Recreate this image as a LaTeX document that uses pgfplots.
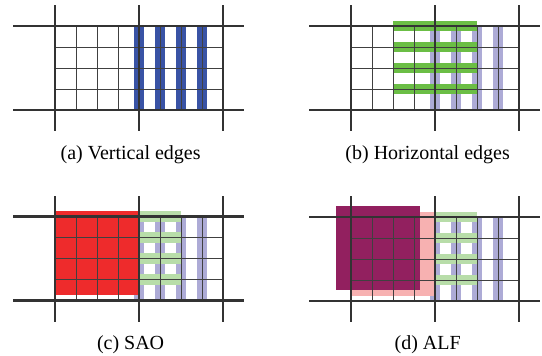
\documentclass[border=0pt]{standalone}
\usepackage{pgfplots}
\pgfplotsset{compat=1.18}
\usepackage{fontspec}
\setmainfont{Liberation Serif}
\definecolor{vblue}{RGB}{57,83,165}
\definecolor{lpurple}{RGB}{173,171,214}
\definecolor{hgreen}{RGB}{107,190,69}
\definecolor{lgreen}{RGB}{184,221,169}
\definecolor{sred}{RGB}{238,43,44}
\definecolor{lpink}{RGB}{247,177,177}
\definecolor{dmag}{RGB}{146,32,95}
\definecolor{thingray}{RGB}{64,64,64}
\definecolor{thickgray}{RGB}{51,51,51}
\pgfplotsset{panel/.style={x=21pt,y=21pt,xmin=-2,xmax=9,ymin=-1,ymax=5,
  hide axis,clip=false,anchor=south west,enlargelimits=false}}
\newcommand{\gridlines}{%
\addplot[draw=thingray, line width=0.9pt, unbounded coords=jump] coordinates {(1,0)(1,4) (nan,nan) (2,0)(2,4) (nan,nan) (3,0)(3,4) (nan,nan) (5,0)(5,4) (nan,nan) (6,0)(6,4) (nan,nan) (7,0)(7,4) (nan,nan) (0,1)(8,1) (nan,nan) (0,2)(8,2) (nan,nan) (0,3)(8,3)};
\addplot[draw=thickgray, line width=2.4pt, unbounded coords=jump] coordinates {(-2,0)(9,0) (nan,nan) (-2,4)(9,4) (nan,nan) (0,-1)(0,5) (nan,nan) (4,-1)(4,5) (nan,nan) (8,-1)(8,5)};
}
\newcommand{\lightbars}{%
\addplot[fill=lpurple, draw=none] coordinates {(3.75,0)(4.25,0)(4.25,4)(3.75,4)} -- cycle;
\addplot[fill=lpurple, draw=none] coordinates {(4.75,0)(5.25,0)(5.25,4)(4.75,4)} -- cycle;
\addplot[fill=lpurple, draw=none] coordinates {(5.75,0)(6.25,0)(6.25,4)(5.75,4)} -- cycle;
\addplot[fill=lpurple, draw=none] coordinates {(6.75,0)(7.25,0)(7.25,4)(6.75,4)} -- cycle;
}
\newcommand{\lightgreen}{%
\addplot[fill=lgreen, draw=none] coordinates {(4,3.75)(6,3.75)(6,4.25)(4,4.25)} -- cycle;
\addplot[fill=lgreen, draw=none] coordinates {(4,2.75)(6,2.75)(6,3.25)(4,3.25)} -- cycle;
\addplot[fill=lgreen, draw=none] coordinates {(4,1.75)(6,1.75)(6,2.25)(4,2.25)} -- cycle;
\addplot[fill=lgreen, draw=none] coordinates {(4,0.75)(6,0.75)(6,1.25)(4,1.25)} -- cycle;
}
\newcommand{\capfont}{\fontsize{20}{24}\selectfont}
\begin{document}
\begin{tikzpicture}
\useasboundingbox (0,0) rectangle (542pt,356pt);
% (a)
\begin{axis}[panel, at={(13pt,225pt)}]
\addplot[fill=vblue, draw=none] coordinates {(3.75,0)(4.25,0)(4.25,4)(3.75,4)} -- cycle;
\addplot[fill=vblue, draw=none] coordinates {(4.75,0)(5.25,0)(5.25,4)(4.75,4)} -- cycle;
\addplot[fill=vblue, draw=none] coordinates {(5.75,0)(6.25,0)(6.25,4)(5.75,4)} -- cycle;
\addplot[fill=vblue, draw=none] coordinates {(6.75,0)(7.25,0)(7.25,4)(6.75,4)} -- cycle;
\gridlines
\node[anchor=base, font=\capfont] at (axis cs:3.6,-2.36) {(a) Vertical edges};
\end{axis}
% (b)
\begin{axis}[panel, at={(309pt,225pt)}]
\lightbars
\addplot[fill=hgreen, draw=none] coordinates {(2,3.75)(6,3.75)(6,4.25)(2,4.25)} -- cycle;
\addplot[fill=hgreen, draw=none] coordinates {(2,2.75)(6,2.75)(6,3.25)(2,3.25)} -- cycle;
\addplot[fill=hgreen, draw=none] coordinates {(2,1.75)(6,1.75)(6,2.25)(2,2.25)} -- cycle;
\addplot[fill=hgreen, draw=none] coordinates {(2,0.75)(6,0.75)(6,1.25)(2,1.25)} -- cycle;
\gridlines
\node[anchor=base, font=\capfont] at (axis cs:3.65,-2.36) {(b) Horizontal edges};
\end{axis}
% (c)
\begin{axis}[panel, at={(13pt,34.3pt)}]
\lightbars
\lightgreen
\addplot[fill=sred, draw=none] coordinates {(0,0.25)(4,0.25)(4,4.25)(0,4.25)} -- cycle;
\gridlines
\node[anchor=base, font=\capfont] at (axis cs:3.6,-2.33) {(c) SAO};
\end{axis}
% (d)
\begin{axis}[panel, at={(309pt,34pt)}]
\lightbars
\lightgreen
\addplot[fill=lpink, draw=none] coordinates {(0,0.25)(4,0.25)(4,4.25)(0,4.25)} -- cycle;
\addplot[fill=dmag, draw=none] coordinates {(-0.7,0.5)(3.3,0.5)(3.3,4.5)(-0.7,4.5)} -- cycle;
\gridlines
\node[anchor=base, font=\capfont] at (axis cs:3.65,-2.33) {(d) ALF};
\end{axis}
\end{tikzpicture}
\end{document}
